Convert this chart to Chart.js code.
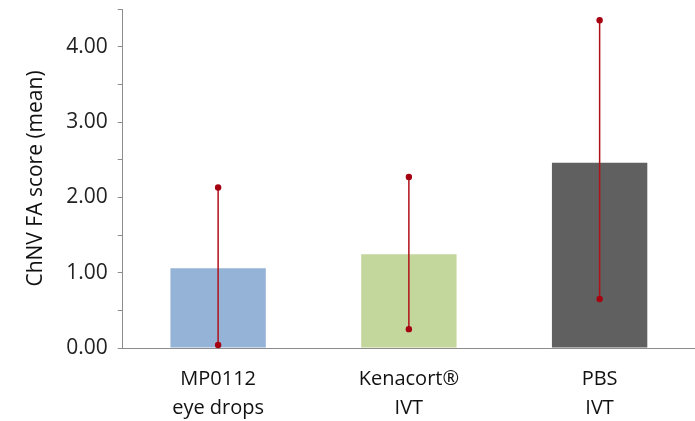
<!DOCTYPE html>
<html>
<head>
<meta charset="utf-8">
<script src="https://cdn.jsdelivr.net/npm/chart.js@4/dist/chart.umd.min.js"></script>
<style>
  html, body { margin: 0; padding: 0; background: #fff; }
  #wrap { width: 695px; height: 421px; }
</style>
</head>
<body>
<div id="wrap"><canvas id="faChart"></canvas></div>
<script>
const categories = [['MP0112', 'eye drops'], ['Kenacort®', 'IVT'], ['PBS', 'IVT']];
const meanScores = [1.06, 1.245, 2.46];
const errLow = [0.04, 0.25, 0.65];
const errHigh = [2.13, 2.27, 4.35];
const barColors = ['#95b3d7', '#c3d69b', '#606060'];

// draws the red whiskers with dot ends from errLow / errHigh
const errorBars = {
    id: 'errorBars',
    afterDatasetsDraw(chart) {
        const ctx = chart.ctx;
        const y = chart.scales.y;
        const meta = chart.getDatasetMeta(0);
        ctx.save();
        ctx.strokeStyle = '#b0101a';
        ctx.fillStyle = '#a50010';
        ctx.lineWidth = 1.5;
        meta.data.forEach((bar, i) => {
            const x = bar.x;
            const yLo = y.getPixelForValue(errLow[i]);
            const yHi = y.getPixelForValue(errHigh[i]);
            ctx.beginPath();
            ctx.moveTo(x, yLo);
            ctx.lineTo(x, yHi);
            ctx.stroke();
            [yLo, yHi].forEach(py => {
                ctx.beginPath();
                ctx.arc(x, py, 3.2, 0, Math.PI * 2);
                ctx.fill();
            });
        });
        ctx.restore();
    }
};

const ctx = document.getElementById('faChart').getContext('2d');
const faChart = new Chart(ctx, {
    type: 'bar',
    data: {
        labels: categories,
        datasets: [{
            data: meanScores,
            backgroundColor: barColors,
            borderWidth: 0,
            barPercentage: 0.5,
            categoryPercentage: 1.0
        }]
    },
    options: {
        responsive: true,
        maintainAspectRatio: false,
        animation: false,
        layout: { padding: { top: 9, right: 0, left: 23, bottom: 0 } },
        scales: {
            y: {
                min: 0,
                max: 4.5,
                afterFit: s => { s.paddingTop = 0; },
                ticks: {
                    stepSize: 0.5,
                    color: '#222',
                    padding: 10,
                    font: { family: 'Open Sans', size: 21 },
                    callback: v => (v % 1 === 0 ? v.toFixed(2) : '')
                },
                grid: {
                    drawOnChartArea: false,
                    drawTicks: true,
                    tickLength: 5,
                    color: '#8c8c8c'
                },
                border: { color: '#8c8c8c', width: 1 },
                title: {
                    display: true,
                    text: 'ChNV FA score (mean)',
                    color: '#111',
                    font: { family: 'Open Sans', size: 21 },
                    padding: { top: 0, bottom: 8 }
                }
            },
            x: {
                afterFit: s => { s.height = 73; },
                ticks: {
                    color: '#111',
                    padding: 9,
                    font: { family: 'Open Sans', size: 20, lineHeight: 1.45 },
                    maxRotation: 0
                },
                grid: { display: false },
                border: { color: '#8c8c8c', width: 1 }
            }
        },
        plugins: {
            legend: { display: false },
            tooltip: { enabled: false }
        }
    },
    plugins: [errorBars]
});
</script>
</body>
</html>
